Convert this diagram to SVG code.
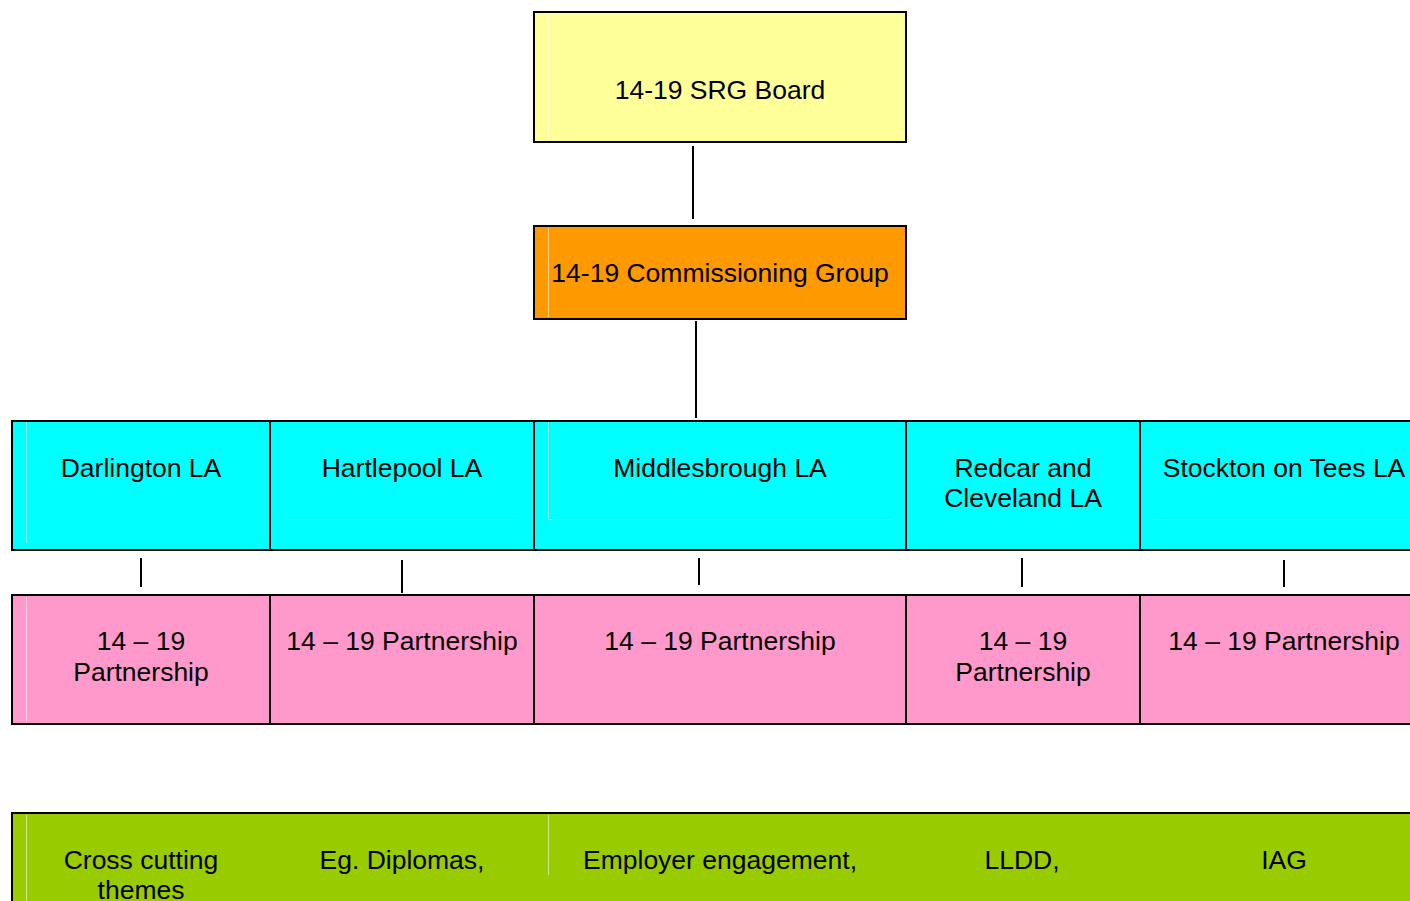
<svg xmlns="http://www.w3.org/2000/svg" width="1410" height="901" viewBox="0 0 1410 901">
<style>
  .box { stroke: #000; stroke-width: 2; }
  .div { stroke: #000; stroke-width: 2; }
  .faint { stroke: #ffffff; stroke-opacity: 0.55; stroke-width: 1; fill: none; }
  .conn { stroke: #000; stroke-width: 2; fill: none; }
  text { font-family: "Liberation Sans", Arial, sans-serif; font-size: 26.5px; fill: #000; text-anchor: middle; }
</style>
<rect width="1410" height="901" fill="#ffffff"/>

<g id="srg-board">
  <rect class="box" x="534" y="12" width="372" height="130" fill="#FFFF99"/>
  <line class="faint" x1="548.5" y1="14" x2="548.5" y2="140"/>
  <text x="720" y="99">14-19 SRG Board</text>
</g>

<g id="commissioning-group">
  <rect class="box" x="534" y="226" width="372" height="93" fill="#FF9900"/>
  <line class="faint" x1="548.5" y1="228" x2="548.5" y2="317"/>
  <text x="720" y="282">14-19 Commissioning Group</text>
</g>

<g id="la-row">
  <rect class="box" x="12" y="421" width="1420" height="129" fill="#00FFFF"/>
  <line class="div" x1="270" y1="421" x2="270" y2="550"/>
  <line class="div" x1="534" y1="421" x2="534" y2="550"/>
  <line class="div" x1="906" y1="421" x2="906" y2="550"/>
  <line class="div" x1="1140" y1="421" x2="1140" y2="550"/>
  <line class="faint" x1="26.5" y1="422" x2="26.5" y2="543"/>
  <line class="faint" x1="284" y1="519.5" x2="520" y2="519.5"/>
  <polyline class="faint" points="548.5,422 548.5,519.5 891,519.5"/>
  <line class="faint" x1="1154" y1="519.5" x2="1410" y2="519.5"/>
</g>
<g id="darlington-la"><text x="141" y="477">Darlington LA</text></g>
<g id="hartlepool-la"><text x="402" y="477">Hartlepool LA</text></g>
<g id="middlesbrough-la"><text x="720" y="477">Middlesbrough LA</text></g>
<g id="redcar-la"><text x="1023" y="477">Redcar and</text><text x="1023" y="507">Cleveland LA</text></g>
<g id="stockton-la"><text x="1284" y="477">Stockton on Tees LA</text></g>

<g id="partnership-row">
  <rect class="box" x="12" y="595" width="1420" height="129" fill="#FF99CC"/>
  <line class="div" x1="270" y1="595" x2="270" y2="724"/>
  <line class="div" x1="534" y1="595" x2="534" y2="724"/>
  <line class="div" x1="906" y1="595" x2="906" y2="724"/>
  <line class="div" x1="1140" y1="595" x2="1140" y2="724"/>
  <line class="faint" x1="26.5" y1="597" x2="26.5" y2="722"/>
</g>
<g id="darlington-partnership"><text x="141" y="650">14 – 19</text><text x="141" y="681">Partnership</text></g>
<g id="hartlepool-partnership"><text x="402" y="650">14 – 19 Partnership</text></g>
<g id="middlesbrough-partnership"><text x="720" y="650">14 – 19 Partnership</text></g>
<g id="redcar-partnership"><text x="1023" y="650">14 – 19</text><text x="1023" y="681">Partnership</text></g>
<g id="stockton-partnership"><text x="1284" y="650">14 – 19 Partnership</text></g>

<g id="themes-row">
  <rect class="box" x="12" y="813" width="1420" height="120" fill="#99CC00"/>
  <line class="faint" x1="26.5" y1="815" x2="26.5" y2="901"/>
  <line class="faint" x1="548.5" y1="815" x2="548.5" y2="875"/>
</g>
<g id="theme-cross-cutting"><text x="141" y="869">Cross cutting</text><text x="141" y="899">themes</text></g>
<g id="theme-diplomas"><text x="402" y="869">Eg. Diplomas,</text></g>
<g id="theme-employer"><text x="720" y="869">Employer engagement,</text></g>
<g id="theme-lldd"><text x="1022" y="869">LLDD,</text></g>
<g id="theme-iag"><text x="1284" y="869">IAG</text></g>

<g id="connectors">
  <line class="conn" x1="693" y1="146" x2="693" y2="219"/>
  <line class="conn" x1="696" y1="321" x2="696" y2="418"/>
  <line class="conn" x1="141" y1="558" x2="141" y2="587"/>
  <line class="conn" x1="402" y1="560" x2="402" y2="593" stroke-width="3"/>
  <line class="conn" x1="699" y1="558" x2="699" y2="585"/>
  <line class="conn" x1="1022" y1="558" x2="1022" y2="587"/>
  <line class="conn" x1="1284" y1="560" x2="1284" y2="587"/>
</g>
</svg>
